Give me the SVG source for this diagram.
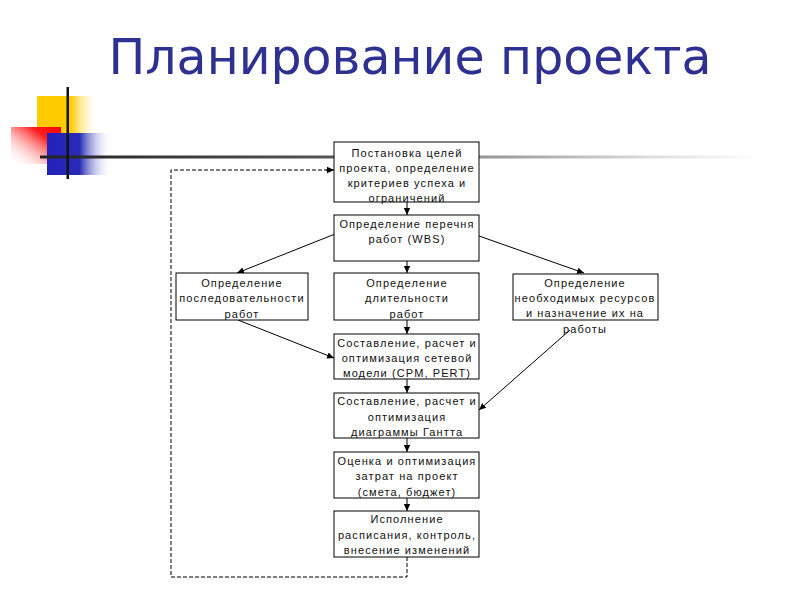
<svg xmlns="http://www.w3.org/2000/svg" width="800" height="600" viewBox="0 0 800 600">
<defs>
<linearGradient id="gy" x1="0" y1="0" x2="1" y2="0"><stop offset="0" stop-color="#ffcc00"/><stop offset="0.55" stop-color="#ffcc00"/><stop offset="1" stop-color="#ffffff" stop-opacity="0"/></linearGradient>
<linearGradient id="gr" x1="1" y1="0" x2="0" y2="1"><stop offset="0" stop-color="#ff0000"/><stop offset="0.3" stop-color="#ff2020"/><stop offset="1" stop-color="#ffffff" stop-opacity="0"/></linearGradient>
<linearGradient id="gb" x1="0" y1="0" x2="1" y2="0"><stop offset="0" stop-color="#2222bb"/><stop offset="0.5" stop-color="#2a2ab8"/><stop offset="1" stop-color="#ffffff" stop-opacity="0"/></linearGradient>
<linearGradient id="gl" x1="0" y1="0" x2="1" y2="0"><stop offset="0" stop-color="#222222"/><stop offset="0.4" stop-color="#555555"/><stop offset="0.85" stop-color="#dddddd"/><stop offset="1" stop-color="#ffffff"/></linearGradient>
<marker id="ah" markerWidth="8" markerHeight="8" refX="7" refY="4" orient="auto" markerUnits="userSpaceOnUse"><path d="M0,0.8 L7,4 L0,7.2 Z" fill="#000"/></marker>
</defs>
<style>
.box{fill:#fff;stroke:#000;stroke-width:1}
.t{font-family:"Liberation Sans",Arial,sans-serif;font-size:11px;letter-spacing:1.1px;text-anchor:middle;fill:#111}
.c{stroke:#000;stroke-width:1;fill:none;marker-end:url(#ah)}
.d{stroke:#000;stroke-width:1;fill:none;stroke-dasharray:4,2}
</style>
<rect x="0" y="0" width="800" height="600" fill="#fff"/>
<g id="decor">
<rect x="37" y="96" width="62" height="38" fill="url(#gy)"/>
<rect x="11" y="127" width="50" height="37" fill="url(#gr)"/>
<rect x="47" y="133" width="65" height="42" fill="url(#gb)"/>
<rect x="40" y="155.5" width="720" height="3" fill="url(#gl)"/>
<rect x="66.5" y="87" width="2.5" height="92" fill="#111"/>
</g>
<text x="410" y="74" font-family="DejaVu Sans,Verdana,sans-serif" font-size="49" fill="#2e3192" text-anchor="middle">Планирование проекта</text>
<g id="connectors">
<line class="c" x1="407" y1="202" x2="407" y2="215"/>
<line class="c" x1="335" y1="234" x2="237" y2="273"/>
<line class="c" x1="407" y1="261" x2="407" y2="273"/>
<line class="c" x1="479" y1="236" x2="584" y2="273"/>
<line class="c" x1="238" y1="320" x2="334" y2="358"/>
<line class="c" x1="407" y1="320" x2="407" y2="334"/>
<line class="c" x1="570" y1="330" x2="479" y2="410"/>
<line class="c" x1="407" y1="379" x2="407" y2="393"/>
<line class="c" x1="407" y1="438" x2="407" y2="452"/>
<line class="c" x1="407" y1="498" x2="407" y2="511"/>
<path class="d" d="M407,557 V577 H171 V170 H330"/>
<line class="c" x1="326" y1="170" x2="334" y2="170"/>
</g>
<g id="n1"><rect class="box" x="334" y="142" width="145" height="60"/>
<text class="t" x="407" y="157">Постановка целей</text>
<text class="t" x="407" y="172">проекта, определение</text>
<text class="t" x="407" y="187">критериев успеха и</text>
<text class="t" x="407" y="202">ограничений</text></g>
<g id="n2"><rect class="box" x="334" y="215" width="145" height="46"/>
<text class="t" x="407" y="228">Определение перечня</text>
<text class="t" x="407" y="243">работ (WBS)</text></g>
<g id="n3"><rect class="box" x="176" y="273" width="132" height="47"/>
<text class="t" x="242" y="287">Определение</text>
<text class="t" x="242" y="302">последовательности</text>
<text class="t" x="242" y="318">работ</text></g>
<g id="n4"><rect class="box" x="334" y="273" width="145" height="47"/>
<text class="t" x="407" y="287">Определение</text>
<text class="t" x="407" y="302">длительности</text>
<text class="t" x="407" y="318">работ</text></g>
<g id="n5"><rect class="box" x="513" y="274" width="145" height="46"/>
<text class="t" x="585" y="287">Определение</text>
<text class="t" x="585" y="302">необходимых ресурсов</text>
<text class="t" x="585" y="317">и назначение их на</text>
<text class="t" x="585" y="333">работы</text></g>
<g id="n6"><rect class="box" x="334" y="334" width="145" height="45"/>
<text class="t" x="407" y="347">Составление, расчет и</text>
<text class="t" x="407" y="362">оптимизация сетевой</text>
<text class="t" x="407" y="377">модели (CPM, PERT)</text></g>
<g id="n7"><rect class="box" x="334" y="393" width="145" height="45"/>
<text class="t" x="407" y="405">Составление, расчет и</text>
<text class="t" x="407" y="421">оптимизация</text>
<text class="t" x="407" y="436">диаграммы Гантта</text></g>
<g id="n8"><rect class="box" x="334" y="452" width="145" height="46"/>
<text class="t" x="407" y="465">Оценка и оптимизация</text>
<text class="t" x="407" y="480">затрат на проект</text>
<text class="t" x="407" y="496">(смета, бюджет)</text></g>
<g id="n9"><rect class="box" x="334" y="511" width="145" height="46"/>
<text class="t" x="407" y="523">Исполнение</text>
<text class="t" x="407" y="539">расписания, контроль,</text>
<text class="t" x="407" y="554">внесение изменений</text></g>
</svg>
